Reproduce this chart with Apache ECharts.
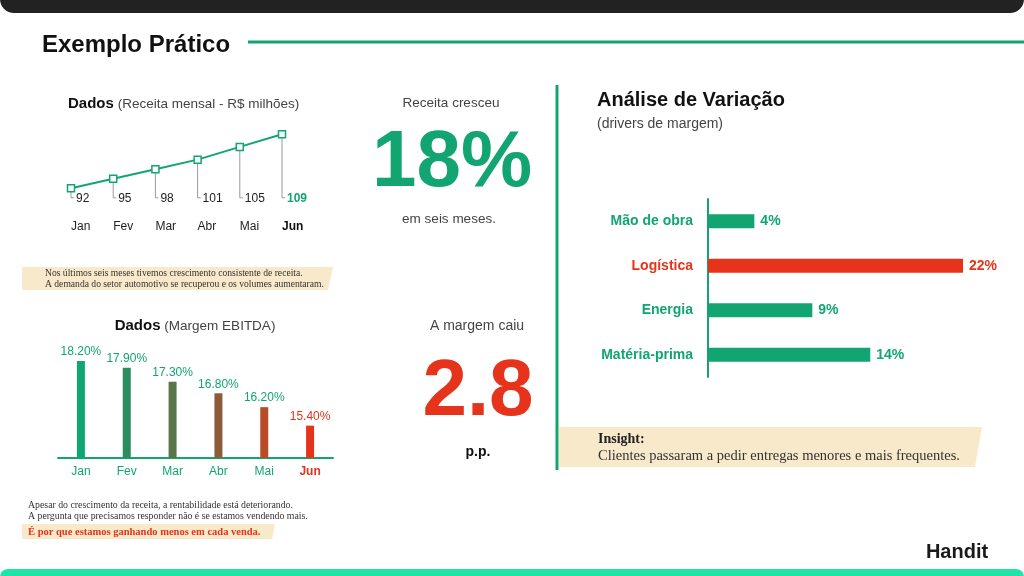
<!DOCTYPE html>
<html lang="pt">
<head>
    <meta charset="UTF-8">
    <title>Exemplo Prático</title>
    <script src="https://cdn.jsdelivr.net/npm/echarts@6/dist/echarts.min.js"></script>
    <style>
        html, body { margin: 0; padding: 0; background: #fff; }
    </style>
</head>
<body>
<div id="main" style="width: 1024px;height:576px;"></div>
<script>
    // dados
    var months = ['Jan', 'Fev', 'Mar', 'Abr', 'Mai', 'Jun'];
    var receita = [92, 95, 98, 101, 105, 109];
    var margem = [18.2, 17.9, 17.3, 16.8, 16.2, 15.4];
    var drivers = ['Mão de obra', 'Logística', 'Energia', 'Matéria-prima'];
    var driverValues = [4, 22, 9, 14];
    var crescimento = 18;
    var quedaMargem = 2.8;

    // cores
    var green = '#12a571';
    var red = '#e5341b';
    var beige = '#f8e9ca';
    var barPalette = ['#10a673', '#2b8c5f', '#5a7549', '#8a5d38', '#b94b29', '#e5341b'];
    var sans = 'Liberation Sans, Arial, sans-serif';
    var serif = 'Liberation Serif, Times New Roman, serif';

    var myChart = echarts.init(document.getElementById('main'));

    // texto simples para o graphic
    function txt(x, y, text, size, opts) {
        opts = opts || {};
        var align = opts.align || 'left';
        return {
            type: 'text', x: x, y: y, z: 10,
            style: {
                text: text,
                fill: opts.color || '#222',
                fontSize: size,
                fontWeight: opts.weight || 'normal',
                fontFamily: opts.family || sans,
                rich: opts.rich,
                align: align, textAlign: align,
                verticalAlign: 'middle', textVerticalAlign: 'middle'
            }
        };
    }

    var maxDriver = Math.max.apply(null, driverValues);

    var option = {
        animation: false,
        backgroundColor: '#fff',
        grid: [
            {left: 71, top: 131, width: 211, height: 70},   // receita
            {left: 58, top: 354, width: 275, height: 104},  // margem
            {left: 708, top: 199, width: 255, height: 178}  // drivers
        ],
        xAxis: [
            {
                gridIndex: 0, type: 'category', data: months, boundaryGap: false,
                axisLine: {show: false}, axisTick: {show: false},
                axisLabel: {
                    interval: 0, align: 'left', margin: 20, fontSize: 12, color: '#222', fontFamily: sans,
                    formatter: function (v, i) { return i === months.length - 1 ? '{b|' + v + '}' : v; },
                    rich: {b: {fontWeight: 'bold', fontSize: 12, color: '#111', fontFamily: sans}}
                }
            },
            {
                gridIndex: 1, type: 'category', data: months,
                axisLine: {lineStyle: {color: green, width: 2}}, axisTick: {show: false},
                axisLabel: {
                    interval: 0, margin: 8, fontSize: 12,
                    formatter: function (v, i) { return i === months.length - 1 ? '{r|' + v + '}' : '{g|' + v + '}'; },
                    rich: {
                        g: {color: green, fontSize: 12, fontFamily: sans},
                        r: {color: red, fontSize: 12, fontWeight: 'bold', fontFamily: sans}
                    }
                }
            },
            {gridIndex: 2, type: 'value', min: 0, max: 22, show: false}
        ],
        yAxis: [
            {gridIndex: 0, type: 'value', min: 88, max: 110, show: false},
            {gridIndex: 1, type: 'value', min: 14, max: 18.5, show: false},
            {
                gridIndex: 2, type: 'category', data: drivers, inverse: true,
                axisLine: {lineStyle: {color: green, width: 2}}, axisTick: {show: false},
                axisLabel: {
                    interval: 0, margin: 15,
                    formatter: function (v) { return driverValues[drivers.indexOf(v)] === maxDriver ? '{r|' + v + '}' : '{g|' + v + '}'; },
                    rich: {
                        g: {color: green, fontSize: 14, fontWeight: 'bold', fontFamily: sans},
                        r: {color: red, fontSize: 14, fontWeight: 'bold', fontFamily: sans}
                    }
                }
            }
        ],
        series: [
            {
                // linhas de chamada + valores
                type: 'custom', xAxisIndex: 0, yAxisIndex: 0, z: 1,
                data: receita.map(function (v, i) { return [i, v]; }),
                renderItem: function (params, api) {
                    var i = api.value(0), v = api.value(1);
                    var top = api.coord([i, v]);
                    var foot = api.coord([i, 89]);
                    var last = params.dataIndex === receita.length - 1;
                    return {
                        type: 'group',
                        children: [
                            {
                                type: 'polyline',
                                shape: {points: [[top[0], top[1]], [top[0], foot[1]], [top[0] + 3, foot[1]]]},
                                style: {stroke: '#9a9a9a', lineWidth: 1, fill: null}
                            },
                            {
                                type: 'text', x: top[0] + 5, y: foot[1] + 1,
                                style: {
                                    text: String(v), fill: last ? green : '#222', fontSize: 12,
                                    fontWeight: last ? 'bold' : 'normal', fontFamily: sans,
                                    align: 'left', textAlign: 'left',
                                    verticalAlign: 'middle', textVerticalAlign: 'middle'
                                }
                            }
                        ]
                    };
                }
            },
            {
                type: 'line', xAxisIndex: 0, yAxisIndex: 0, z: 3,
                data: receita,
                symbol: 'rect', symbolSize: 7,
                lineStyle: {color: green, width: 2},
                itemStyle: {color: '#fff', borderColor: green, borderWidth: 1.5}
            },
            {
                type: 'bar', xAxisIndex: 1, yAxisIndex: 1, barWidth: 8,
                data: margem.map(function (v, i) {
                    return {
                        value: v,
                        itemStyle: {color: barPalette[i]},
                        label: {color: i === margem.length - 1 ? red : green}
                    };
                }),
                label: {
                    show: true, position: 'top', distance: 3, fontSize: 12, fontFamily: sans,
                    formatter: function (p) { return p.value.toFixed(2) + '%'; }
                }
            },
            {
                type: 'bar', xAxisIndex: 2, yAxisIndex: 2, barWidth: 14,
                data: driverValues.map(function (v) {
                    var c = v === maxDriver ? red : green;
                    return {value: v, itemStyle: {color: c}, label: {color: c}};
                }),
                label: {
                    show: true, position: 'right', distance: 6, fontSize: 14, fontWeight: 'bold', fontFamily: sans,
                    formatter: '{c}%'
                }
            }
        ],
        graphic: [
            // moldura
            {type: 'rect', shape: {x: 0, y: -20, width: 1024, height: 33, r: 14}, style: {fill: '#222'}},
            {type: 'rect', shape: {x: 0, y: 569, width: 1024, height: 20, r: 8}, style: {fill: '#1de5a5'}},
            txt(42, 45, 'Exemplo Prático', 24, {weight: 'bold', color: '#111'}),
            {type: 'line', shape: {x1: 248, y1: 42, x2: 1024, y2: 42}, style: {stroke: green, lineWidth: 3}},

            // bloco receita
            txt(68, 104, '{b|Dados} {n|(Receita mensal - R$ milhões)}', 14, {
                rich: {
                    b: {fontSize: 15, fontWeight: 'bold', fill: '#111', fontFamily: sans},
                    n: {fontSize: 13.5, fill: '#444', fontFamily: sans}
                }
            }),
            {type: 'polygon', shape: {points: [[22, 267], [333, 267], [328, 290], [22, 290]]}, style: {fill: beige}},
            txt(45, 273, 'Nos últimos seis meses tivemos crescimento consistente de receita.', 9.6, {family: serif, color: '#333'}),
            txt(45, 284, 'A demanda do setor automotivo se recuperou e os volumes aumentaram.', 9.6, {family: serif, color: '#333'}),

            // bloco margem
            txt(195, 326, '{b|Dados} {n|(Margem EBITDA)}', 14, {
                align: 'center',
                rich: {
                    b: {fontSize: 15, fontWeight: 'bold', fill: '#111', fontFamily: sans},
                    n: {fontSize: 13.5, fill: '#444', fontFamily: sans}
                }
            }),
            txt(28, 505, 'Apesar do crescimento da receita, a rentabilidade está deteriorando.', 9.8, {family: serif, color: '#333'}),
            txt(28, 516, 'A pergunta que precisamos responder não é se estamos vendendo mais.', 9.8, {family: serif, color: '#333'}),
            {type: 'polygon', shape: {points: [[22, 524], [275, 524], [272, 539], [22, 539]]}, style: {fill: beige}},
            txt(28, 532, 'É por que estamos ganhando menos em cada venda.', 10.5, {family: serif, color: red, weight: 'bold'}),

            // números em destaque
            txt(451, 103, 'Receita cresceu', 13.5, {align: 'center', color: '#444'}),
            txt(452, 164, crescimento + '%', 80, {align: 'center', color: green, weight: 'bold'}),
            txt(449, 219, 'em seis meses.', 13.5, {align: 'center', color: '#444'}),
            txt(477, 326, 'A margem caiu', 14, {align: 'center', color: '#444'}),
            txt(478, 393, String(quedaMargem), 80, {align: 'center', color: red, weight: 'bold'}),
            txt(478, 452, 'p.p.', 14, {align: 'center', color: '#111', weight: 'bold'}),

            // painel direito
            {type: 'line', shape: {x1: 557, y1: 85, x2: 557, y2: 470}, style: {stroke: green, lineWidth: 3}},
            txt(597, 100, 'Análise de Variação', 20, {weight: 'bold', color: '#111'}),
            txt(597, 124, '(drivers de margem)', 14, {color: '#444'}),
            {type: 'polygon', shape: {points: [[559, 427], [982, 427], [975, 467], [559, 467]]}, style: {fill: beige}},
            txt(598, 439, 'Insight:', 14, {family: serif, weight: 'bold', color: '#222'}),
            txt(598, 456, 'Clientes passaram a pedir entregas menores e mais frequentes.', 14.5, {family: serif, color: '#333'}),

            // logo
            txt(957, 552, 'Handit', 20, {align: 'center', weight: 'bold', color: '#1a1a1a'})
        ]
    };

    myChart.setOption(option, true);
</script>
</body>
</html>
